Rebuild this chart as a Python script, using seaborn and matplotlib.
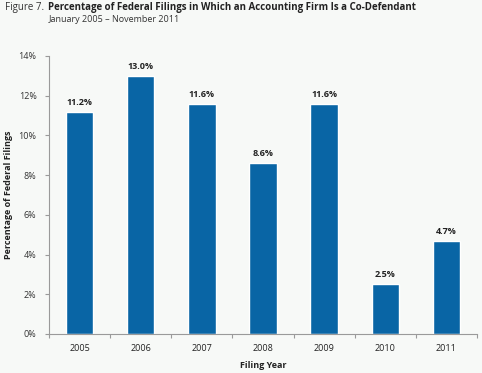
import numpy as np
import pandas as pd
import matplotlib
matplotlib.use("Agg")
import matplotlib.pyplot as plt
import seaborn as sns

# data
years = ["2005", "2006", "2007", "2008", "2009", "2010", "2011"]
pct = [11.2, 13.0, 11.6, 8.6, 11.6, 2.5, 4.7]
y_ticks = [0, 2, 4, 6, 8, 10, 12, 14]

df = pd.DataFrame({"Year": years, "Pct": pct})

sns.set_theme(style="white")
plt.rcParams["font.family"] = ["Open Sans", "DejaVu Sans"]

bg = "#f7f9f7"
blue = "#0965a5"
grey = "#9a9a9a"

fig = plt.figure(figsize=(4.82, 3.73), dpi=100, facecolor=bg)
ax = fig.add_axes([0.1017, 0.1046, 0.8879, 0.7453], facecolor=bg)

sns.barplot(data=df, x="Year", y="Pct", color=blue, width=0.45,
            saturation=1, ax=ax)

for i, v in enumerate(pct):
    ax.text(i, v + 0.25, f"{v:.1f}%", ha="center", va="bottom",
            fontsize=6.5, fontweight="bold", color="#222222")

ax.set_ylim(0, 14)
ax.set_xlim(-0.5, 6.5)
ax.set_yticks(y_ticks)
ax.set_yticklabels([f"{t}%" for t in y_ticks], fontsize=6.5, color="#333333")
ax.tick_params(axis="x", labelsize=6.5, colors="#222222", length=0, pad=7)
ax.tick_params(axis="y", length=3, color=grey, width=0.8, pad=6, direction="out")
ax.yaxis.set_tick_params(left=True)

# minor ticks between bars on x axis
ax.set_xticks(np.arange(-0.5, 7.0, 1.0), minor=True)
ax.tick_params(axis="x", which="minor", bottom=True, length=3, color=grey, width=0.8)

for s in ["top", "right"]:
    ax.spines[s].set_visible(False)
for s in ["left", "bottom"]:
    ax.spines[s].set_color(grey)
    ax.spines[s].set_linewidth(0.8)

ax.set_xlabel("Filing Year", fontsize=6.5, fontweight="bold", color="#222222", labelpad=6)
ax.set_ylabel("Percentage of Federal Filings", fontsize=6.5, fontweight="bold",
              color="#222222")
ax.yaxis.set_label_coords(-0.085, 0.5)

fig.text(0.01, 0.981, "Figure 7.", fontsize=7, color="#333333", va="center")
fig.text(0.1, 0.981, "Percentage of Federal Filings in Which an Accounting Firm Is a Co-Defendant",
         fontsize=7, fontweight="bold", color="#222222", va="center")
fig.text(0.1, 0.949, "January 2005 \u2013 November 2011", fontsize=6.5,
         color="#333333", va="center")

fig.savefig("out.png", dpi=100, facecolor=bg)
